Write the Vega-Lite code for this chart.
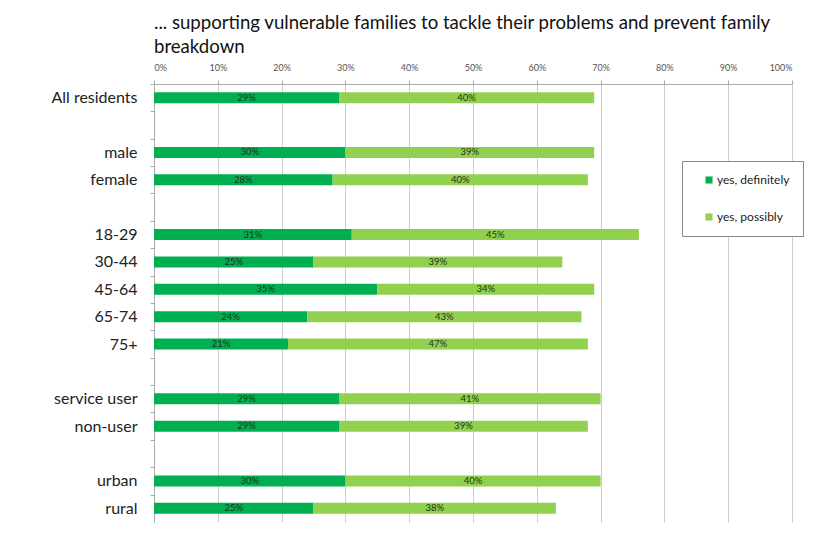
{
  "$schema": "https://vega.github.io/schema/vega-lite/v6.json",
  "width": 638,
  "height": 438,
  "autosize": {"type": "none"},
  "padding": {"left": 154, "top": 84, "right": 24, "bottom": 11},
  "background": "white",
  "title": {
    "text": ["... supporting vulnerable families to tackle their problems and prevent family", "breakdown"],
    "anchor": "start",
    "frame": "group",
    "font": "Lato",
    "fontSize": 18.6,
    "fontWeight": "normal",
    "color": "#111111",
    "lineHeight": 24,
    "offset": 6
  },
  "data": {
    "values": [
      {"group": "All residents", "answer": "yes, definitely", "value": 0.29},
      {"group": "All residents", "answer": "yes, possibly", "value": 0.40},
      {"group": "male", "answer": "yes, definitely", "value": 0.30},
      {"group": "male", "answer": "yes, possibly", "value": 0.39},
      {"group": "female", "answer": "yes, definitely", "value": 0.28},
      {"group": "female", "answer": "yes, possibly", "value": 0.40},
      {"group": "18-29", "answer": "yes, definitely", "value": 0.31},
      {"group": "18-29", "answer": "yes, possibly", "value": 0.45},
      {"group": "30-44", "answer": "yes, definitely", "value": 0.25},
      {"group": "30-44", "answer": "yes, possibly", "value": 0.39},
      {"group": "45-64", "answer": "yes, definitely", "value": 0.35},
      {"group": "45-64", "answer": "yes, possibly", "value": 0.34},
      {"group": "65-74", "answer": "yes, definitely", "value": 0.24},
      {"group": "65-74", "answer": "yes, possibly", "value": 0.43},
      {"group": "75+", "answer": "yes, definitely", "value": 0.21},
      {"group": "75+", "answer": "yes, possibly", "value": 0.47},
      {"group": "service user", "answer": "yes, definitely", "value": 0.29},
      {"group": "service user", "answer": "yes, possibly", "value": 0.41},
      {"group": "non-user", "answer": "yes, definitely", "value": 0.29},
      {"group": "non-user", "answer": "yes, possibly", "value": 0.39},
      {"group": "urban", "answer": "yes, definitely", "value": 0.30},
      {"group": "urban", "answer": "yes, possibly", "value": 0.40},
      {"group": "rural", "answer": "yes, definitely", "value": 0.25},
      {"group": "rural", "answer": "yes, possibly", "value": 0.38}
    ]
  },
  "transform": [
    {"stack": "value", "groupby": ["group"], "sort": [{"field": "answer", "order": "ascending"}], "as": ["v0", "v1"]},
    {"calculate": "(datum.v0 + datum.v1) / 2", "as": "mid"}
  ],
  "encoding": {
    "y": {
      "field": "group",
      "type": "nominal",
      "scale": {
        "domain": ["All residents", "sp1", "male", "female", "sp2", "18-29", "30-44", "45-64", "65-74", "75+", "sp3", "service user", "non-user", "sp4", "urban", "rural"],
        "paddingInner": 0,
        "paddingOuter": 0
      },
      "axis": {
        "title": null,
        "orient": "left",
        "labelExpr": "indexof(datum.value, 'sp') === 0 ? '' : datum.value",
        "labelFont": "Lato",
        "labelFontSize": 16,
        "labelColor": "#222222",
        "labelPadding": 13,
        "tickSize": 4,
        "tickOffset": -13.69,
        "labelOffset": 13.69,
        "tickColor": "#aaaaaa",
        "domainColor": "#aaaaaa",
        "grid": false
      }
    }
  },
  "layer": [
    {
      "mark": {"type": "bar", "height": 11},
      "encoding": {
        "x": {
          "field": "v0",
          "type": "quantitative",
          "scale": {"domain": [0, 1], "nice": false},
          "axis": {
            "title": null,
            "orient": "top",
            "values": [0, 0.1, 0.2, 0.3, 0.4, 0.5, 0.6, 0.7, 0.8, 0.9, 1],
            "format": ".0%",
            "grid": true,
            "gridColor": "#cccccc",
            "domainColor": "#aaaaaa",
            "tickColor": "#aaaaaa",
            "tickSize": 4,
            "labelFont": "Lato",
            "labelFontSize": 9,
            "labelColor": "#555555",
            "labelPadding": 8
          }
        },
        "x2": {"field": "v1"},
        "color": {
          "field": "answer",
          "type": "nominal",
          "scale": {"domain": ["yes, definitely", "yes, possibly"], "range": ["#00B050", "#92D050"]},
          "legend": {
            "title": null,
            "orient": "none",
            "legendX": 528,
            "legendY": 77,
            "fillColor": "white",
            "strokeColor": "#888888",
            "padding": 13,
            "symbolOffset": 8,
            "symbolType": "square",
            "symbolSize": 50,
            "labelFont": "Lato",
            "labelFontSize": 12,
            "labelColor": "#222222",
            "labelOffset": 2,
            "rowPadding": 25,
            "labelExpr": "datum.label + '      '"
          }
        }
      }
    },
    {
      "mark": {"type": "text", "font": "Lato", "fontSize": 9.5, "color": "#1e321e", "baseline": "middle", "align": "center"},
      "encoding": {
        "x": {"field": "mid", "type": "quantitative"},
        "text": {"field": "value", "type": "quantitative", "format": ".0%"}
      }
    }
  ],
  "config": {"view": {"stroke": null}}
}
